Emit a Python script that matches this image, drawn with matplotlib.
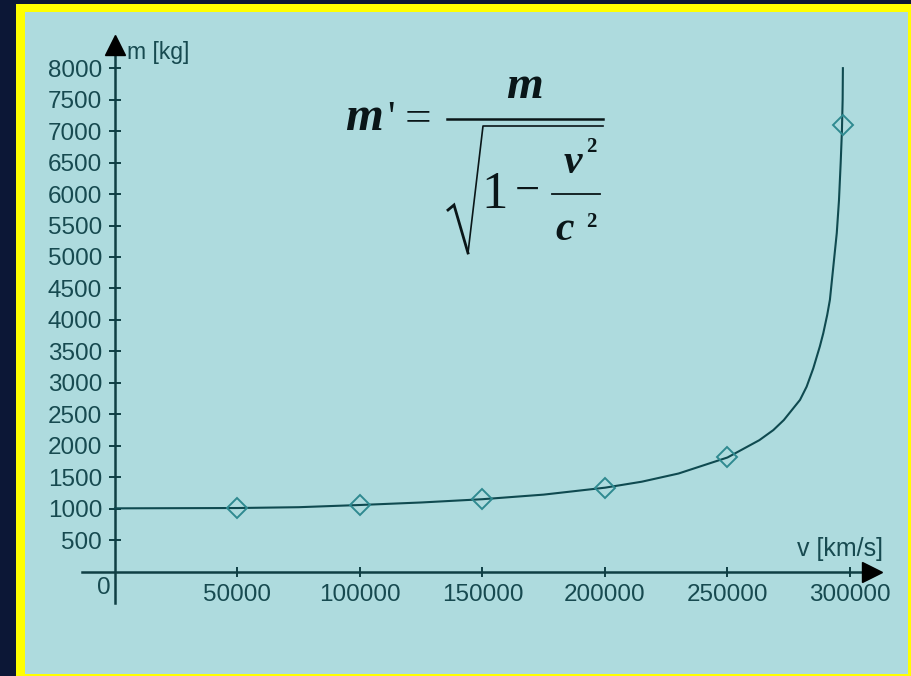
import matplotlib
matplotlib.use("Agg")
import matplotlib.pyplot as plt
from matplotlib.patches import Rectangle
from matplotlib.lines import Line2D

# Relativistic mass of a 1000 kg body versus speed
v_marked = [50000, 100000, 150000, 200000, 250000, 297000]
m_marked = [1012, 1060, 1150, 1335, 1825, 7095]

v_curve = [0, 50000, 75000, 100000, 125000, 150000, 175000, 200000, 215000,
           230000, 250000, 263000, 268700, 273000, 279600, 282300, 285000,
           287700, 289100, 290700, 291800, 293200, 294600, 295500, 296200,
           296700, 297000, 297100]
m_curve = [1007, 1012, 1025, 1060, 1100, 1152, 1225, 1335, 1430,
           1560, 1815, 2090, 2250, 2410, 2730, 2940, 3230,
           3580, 3790, 4080, 4320, 4850, 5380, 5900, 6500,
           7000, 7500, 8000]

x_ticks = [50000, 100000, 150000, 200000, 250000, 300000]
x_tick_labels = ["50000", "100000", "150000", "200000", "250000", "300000"]
y_ticks = [500, 1000, 1500, 2000, 2500, 3000, 3500, 4000,
           4500, 5000, 5500, 6000, 6500, 7000, 7500, 8000]
y_tick_labels = [str(t) for t in y_ticks]

x_label = "v [km/s]"
y_label = "m [kg]"

W, H = 912, 676
NAVY = "#0c1736"
YELLOW = "#ffff00"
PANEL = "#aedbde"
INK = "#0f3f44"
TEXT = "#174a50"
LINE = "#0f4a50"
MARK = "#2f8a90"
FORMULA = "#0a1618"

sans = ["Liberation Sans", "DejaVu Sans"]
serif = ["Liberation Serif", "DejaVu Serif"]


def fx(x):
    return x / W


def fy(y):
    return 1 - y / H


fig = plt.figure(figsize=(W / 100, H / 100), dpi=100)
fig.patch.set_facecolor(NAVY)

# yellow frame and light panel
fig.add_artist(Rectangle((fx(16), -0.01), 1.0, fy(4) + 0.01,
                         transform=fig.transFigure, facecolor=YELLOW,
                         edgecolor="none", zorder=0))
fig.add_artist(Rectangle((fx(25), fy(674)), fx(908) - fx(25), fy(12) - fy(674),
                         transform=fig.transFigure, facecolor=PANEL,
                         edgecolor="none", zorder=0))

# axes placed so that the origin sits inside the panel
ax = fig.add_axes([fx(82), fy(603), fx(872.5) - fx(82), fy(45) - fy(603)])
ax.set_facecolor("none")
ax.set_xlim(-13469, 309184)
ax.set_ylim(-497, 8368)

for side in ("top", "right"):
    ax.spines[side].set_visible(False)
for side in ("left", "bottom"):
    ax.spines[side].set_position(("data", 0))
    ax.spines[side].set_color(INK)
    ax.spines[side].set_linewidth(1.8)

ax.set_xticks(x_ticks, x_tick_labels)
ax.set_yticks(y_ticks, y_tick_labels)
ax.tick_params(axis="x", direction="inout", length=7.2, width=1.4, color=INK,
               labelcolor=TEXT, labelsize=17.5, pad=5.5)
ax.tick_params(axis="y", direction="inout", length=8.6, width=1.4, color=INK,
               labelcolor=TEXT, labelsize=17.5, pad=5)
for lab in ax.get_xticklabels() + ax.get_yticklabels():
    lab.set_family(sans)

# arrow heads at the ends of the axes
ax.plot([1], [0], marker=">", ms=14.5, color="black",
        transform=ax.get_yaxis_transform(), clip_on=False, zorder=5)
ax.plot([0], [1], marker="^", ms=14, color="black",
        transform=ax.get_xaxis_transform(), clip_on=False, zorder=5)

ax.annotate("0", xy=(0, 0), xytext=(-3, -4), textcoords="offset points",
            ha="right", va="top", fontsize=17.5, color=TEXT, family=sans)

ax.text(fx(127), fy(52), y_label, transform=fig.transFigure, ha="left",
        va="center", fontsize=16.5, color=TEXT, family=sans)
ax.text(fx(883), fy(549), x_label, transform=fig.transFigure, ha="right",
        va="center", fontsize=18, color=TEXT, family=sans)

# curve and marked points
ax.plot(v_curve, m_curve, color=LINE, lw=1.5, zorder=3, clip_on=False)
ax.plot(v_marked, m_marked, linestyle="none", marker="D", ms=10.5,
        mfc="none", mec=MARK, mew=1.4, zorder=4, clip_on=False)

# formula m' = m / sqrt(1 - v^2/c^2)
bi = dict(family=serif, weight="bold", style="italic", color=FORMULA,
          transform=fig.transFigure)
rg = dict(family=serif, color=FORMULA, transform=fig.transFigure)

fig.text(fx(345), fy(130), "m", ha="left", va="baseline", fontsize=35, **bi)
fig.text(fx(387), fy(130), "'", ha="left", va="baseline", fontsize=30, **rg)
fig.text(fx(417.5), fy(131), "=", ha="center", va="baseline", fontsize=34, **rg)
fig.add_artist(Line2D([fx(446.7), fx(603.3)], [fy(119), fy(119)],
                      transform=fig.transFigure, color=FORMULA, lw=1.8))
fig.text(fx(524.7), fy(98), "m", ha="center", va="baseline", fontsize=34, **bi)

# radical sign
fig.add_artist(Line2D([fx(448), fx(454), fx(468)], [fy(210), fy(205), fy(253)],
                      transform=fig.transFigure, color=FORMULA, lw=2.0,
                      solid_joinstyle="miter"))
fig.add_artist(Line2D([fx(468), fx(483), fx(603)], [fy(253), fy(126), fy(126)],
                      transform=fig.transFigure, color=FORMULA, lw=1.2))

fig.text(fx(494.5), fy(208), "1", ha="center", va="baseline", fontsize=38, **rg)
fig.text(fx(527.5), fy(203), "\u2212", ha="center", va="baseline", fontsize=32, **rg)
fig.add_artist(Line2D([fx(551.7), fx(600)], [fy(194), fy(194)],
                      transform=fig.transFigure, color=FORMULA, lw=1.3))
fig.text(fx(573), fy(173), "v", ha="center", va="baseline", fontsize=30, **bi)
fig.text(fx(586), fy(152), "2", ha="left", va="baseline", fontsize=15,
         weight="bold", **rg)
fig.text(fx(565), fy(240), "c", ha="center", va="baseline", fontsize=30, **bi)
fig.text(fx(586), fy(227), "2", ha="left", va="baseline", fontsize=15,
         weight="bold", **rg)

fig.savefig("out.png", dpi=100, facecolor=NAVY)
